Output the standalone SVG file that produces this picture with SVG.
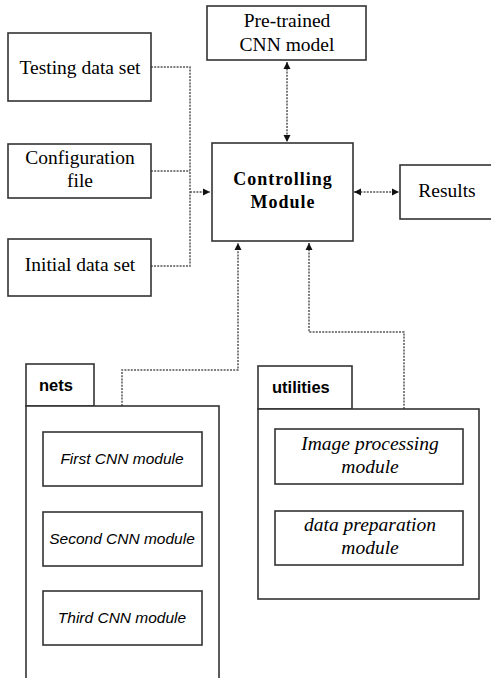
<svg xmlns="http://www.w3.org/2000/svg" width="491" height="678" viewBox="0 0 491 678">
<style>
.box{fill:#fff;stroke:#333;stroke-width:1.6}
.ser{font-family:"Liberation Serif","Times New Roman",serif;font-size:19.5px;fill:#000;text-anchor:middle}
.bold{font-weight:bold;font-size:18px;letter-spacing:1px}
.sans{font-family:"Liberation Sans",Arial,sans-serif;fill:#000}
.tab{font-weight:bold;font-size:16.5px}
.it{font-style:italic;font-size:15.5px;text-anchor:middle}
.sit{font-style:italic;font-size:19.5px;text-anchor:middle}
.con{fill:none;stroke:#555;stroke-width:1.5;stroke-dasharray:2,1.2}
</style>
<defs>
<marker id="ah" markerWidth="8" markerHeight="8" refX="7" refY="4" orient="auto-start-reverse" markerUnits="userSpaceOnUse">
<path d="M0,0.5 L7,4 L0,7.5 Z" fill="#111"/>
</marker>
</defs>
<g id="connectors">
<path class="con" d="M151,67 H190 V266 H151"/>
<path class="con" d="M151,171 H190"/>
<path class="con" d="M190,192 H210" marker-end="url(#ah)"/>
<path class="con" d="M287,62 V142" marker-start="url(#ah)" marker-end="url(#ah)"/>
<path class="con" d="M354,192 H399" marker-start="url(#ah)" marker-end="url(#ah)"/>
<path class="con" d="M122,406 V370 H238 V243" marker-end="url(#ah)"/>
<path class="con" d="M404,409 V332 H309 V243" marker-end="url(#ah)"/>
</g>
<g id="testing">
<rect class="box" x="8" y="33" width="143" height="68"/>
<text class="ser" x="80" y="74">Testing data set</text>
</g>
<g id="config">
<rect class="box" x="8" y="144" width="143" height="54"/>
<text class="ser" x="80" y="164">Configuration</text>
<text class="ser" x="80" y="187">file</text>
</g>
<g id="initial">
<rect class="box" x="8" y="239" width="143" height="57"/>
<text class="ser" x="80" y="271">Initial data set</text>
</g>
<g id="pretrained">
<rect class="box" x="207" y="6" width="159" height="54"/>
<text class="ser" x="287" y="27">Pre-trained</text>
<text class="ser" x="287" y="51">CNN model</text>
</g>
<g id="controlling">
<rect class="box" x="212" y="143" width="141" height="98"/>
<text class="ser bold" x="283" y="185">Controlling</text>
<text class="ser bold" x="283" y="208">Module</text>
</g>
<g id="results">
<rect class="box" x="400" y="165" width="95" height="54"/>
<text class="ser" x="447" y="197">Results</text>
</g>
<g id="nets">
<rect class="box" x="26" y="364" width="68" height="42"/>
<rect class="box" x="26" y="406" width="193" height="276"/>
<text class="sans tab" x="39" y="391">nets</text>
<g id="first">
<rect class="box" x="43" y="432" width="159" height="54"/>
<text class="sans it" x="122" y="464">First CNN module</text>
</g>
<g id="second">
<rect class="box" x="43" y="512" width="159" height="54"/>
<text class="sans it" x="122" y="544">Second CNN module</text>
</g>
<g id="third">
<rect class="box" x="43" y="591" width="159" height="54"/>
<text class="sans it" x="122" y="623">Third CNN module</text>
</g>
</g>
<g id="utilities">
<rect class="box" x="258" y="366" width="94" height="43"/>
<rect class="box" x="258" y="409" width="221" height="190"/>
<text class="sans tab" x="272" y="393">utilities</text>
<g id="imgproc">
<rect class="box" x="275" y="429" width="188" height="55"/>
<text class="ser sit" x="370" y="450">Image processing</text>
<text class="ser sit" x="370" y="473">module</text>
</g>
<g id="dataprep">
<rect class="box" x="275" y="511" width="188" height="54"/>
<text class="ser sit" x="370" y="531">data preparation</text>
<text class="ser sit" x="370" y="554">module</text>
</g>
</g>
</svg>
